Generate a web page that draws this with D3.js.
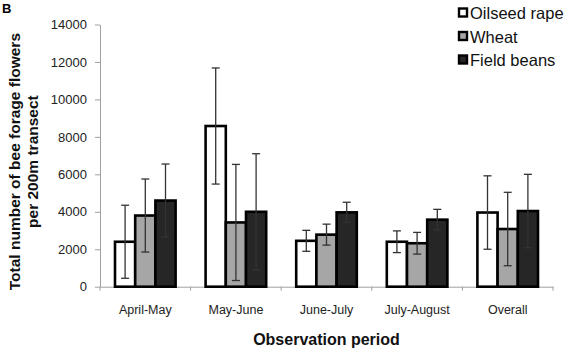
<!DOCTYPE html>
<html>
<head>
<meta charset="utf-8">
<script src="https://cdn.jsdelivr.net/npm/d3@7"></script>
<style>
body{margin:0;background:#fff;}
svg{display:block;font-family:Arial,"Liberation Sans",sans-serif;}
</style>
</head>
<body>
<div id="chart"></div>
<script>
var periods = ["April-May","May-June","June-July","July-August","Overall"];
var series = ["Oilseed rape","Wheat","Field beans"];
var oilseed = [2400, 8580, 2450, 2400, 3960];
var wheat = [3800, 3430, 2780, 2320, 3080];
var beans = [4600, 4000, 3970, 3580, 4040];
var oilseedErr = [1950, 3100, 560, 580, 1960];
var wheatErr = [1950, 3100, 560, 580, 1960];
var beansErr = [1950, 3100, 540, 550, 1960];
var yTicks = [0,2000,4000,6000,8000,10000,12000,14000];

var colors = ["#ffffff","#a6a6a6","#262626"];
var values = [oilseed, wheat, beans];
var errs = [oilseedErr, wheatErr, beansErr];

var W = 567, H = 348;
var margin = {left:100, right:14, top:24.5, bottom:61.3};
var iw = W - margin.left - margin.right, ih = H - margin.top - margin.bottom;

var svg = d3.select("#chart").append("svg").attr("width",W).attr("height",H);
var g = svg.append("g").attr("transform","translate("+margin.left+","+margin.top+")");

var x = d3.scaleBand().domain(periods).range([0,iw]).paddingInner(0).paddingOuter(0);
var x1 = d3.scaleBand().domain(series).range([15, x.bandwidth()-15]).padding(0);
var y = d3.scaleLinear().domain([0,14000]).range([ih,0]);

// y axis
var yAxis = g.append("g").call(d3.axisLeft(y).tickValues(yTicks).tickFormat(d3.format("d"))
  .tickSize(5).tickSizeOuter(0).tickPadding(8));
yAxis.select(".domain").attr("stroke","#a0a0a0");
yAxis.selectAll(".tick line").attr("stroke","#a0a0a0");
yAxis.selectAll("text").attr("font-size",13).attr("fill","#222");

// x axis
var xAxis = g.append("g").attr("transform","translate(0,"+ih+")")
  .call(d3.axisBottom(x).tickSize(0).tickPadding(18));
xAxis.select(".domain").attr("stroke","#a0a0a0");
xAxis.selectAll("text").attr("font-size",12.5).attr("fill","#222");
var bounds = periods.map(function(p){return x(p);}).concat([iw]);
g.selectAll(".xt").data(bounds).enter().append("line")
  .attr("x1",function(d){return d;}).attr("x2",function(d){return d;})
  .attr("y1",ih).attr("y2",ih+4).attr("stroke","#a0a0a0");

// bars
var groups = g.selectAll(".grp").data(periods).enter().append("g")
  .attr("transform",function(d){return "translate("+x(d)+",0)";});

series.forEach(function(s,si){
  groups.append("rect")
    .attr("x",x1(s)).attr("width",x1.bandwidth())
    .attr("y",function(d,i){return y(values[si][i]);})
    .attr("height",function(d,i){return ih - y(values[si][i]);})
    .attr("fill",colors[si]).attr("stroke","#000").attr("stroke-width",2.6);
});

series.forEach(function(s,si){
  var cx = x1(s) + x1.bandwidth()/2;
  groups.each(function(d,i){
    var top = y(values[si][i] + errs[si][i]);
    var bot = y(Math.max(0, values[si][i] - errs[si][i]));
    var e = d3.select(this).append("g").attr("stroke","#333").attr("stroke-width",1.3);
    e.append("line").attr("x1",cx).attr("x2",cx).attr("y1",top).attr("y2",bot);
    e.append("line").attr("x1",cx-4).attr("x2",cx+4).attr("y1",top).attr("y2",top);
    e.append("line").attr("x1",cx-4).attr("x2",cx+4).attr("y1",bot).attr("y2",bot);
  });
});

// axis titles
svg.append("text").attr("x",margin.left+iw/2).attr("y",345)
  .attr("text-anchor","middle").attr("font-size",16).attr("font-weight","bold").attr("fill","#111")
  .text("Observation period");
var yt = svg.append("text").attr("transform","translate(0,"+(margin.top+ih/2 + 6)+") rotate(-90)")
  .attr("text-anchor","middle").attr("font-size",15.5).attr("font-weight","bold").attr("fill","#111");
yt.append("tspan").attr("x",0).attr("y",20).text("Total number of bee forage flowers");
yt.append("tspan").attr("x",0).attr("y",38).text("per 200m transect");

svg.append("text").attr("x",2).attr("y",13).attr("font-size",13).attr("font-weight","bold").text("B");

// legend
var leg = svg.append("g").attr("transform","translate(458,0)");
series.forEach(function(s,i){
  var ly = 13 + i*23.5;
  leg.append("rect").attr("x",1).attr("y",ly-4.5).attr("width",8).attr("height",8)
    .attr("fill",colors[i]).attr("stroke","#000").attr("stroke-width",2.4);
  leg.append("text").attr("x",12).attr("y",ly+6).attr("font-size",16.5).attr("fill","#111").text(s);
});
</script>
</body>
</html>
